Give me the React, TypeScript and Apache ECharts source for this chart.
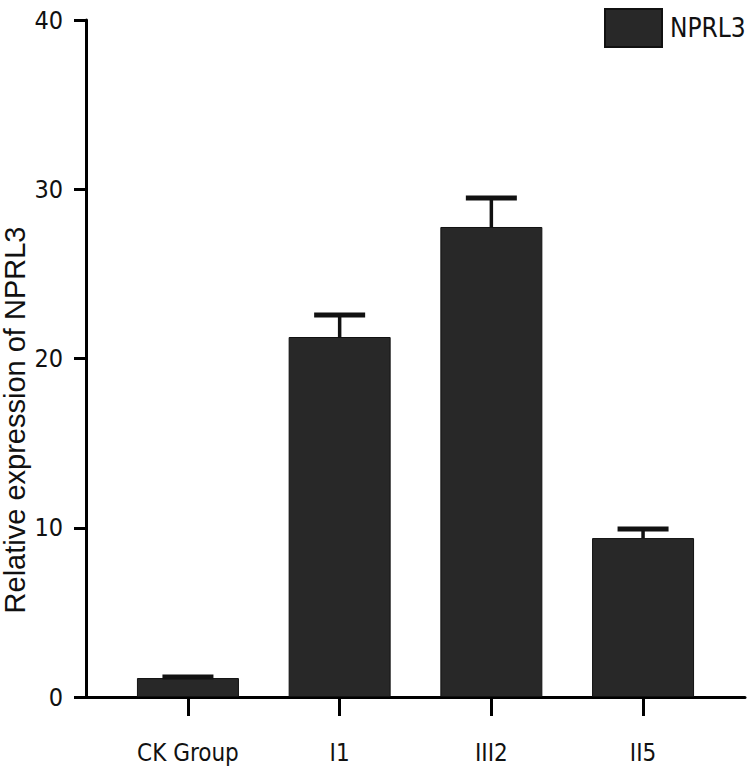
import React, { useEffect, useRef } from "react";
import * as echarts from "echarts";

const categories = ["CK Group", "I1", "III2", "II5"];
const means = [1.12, 21.27, 27.77, 9.39];
const upper = [1.18, 22.57, 29.48, 9.93];
const yTicks = [0, 10, 20, 30, 40];
const seriesName = "NPRL3";
const yTitle = "Relative expression of NPRL3";

const NARROW = '"DejaVu Sans Condensed", "Liberation Sans Narrow", "Arial Narrow", sans-serif';
const REGULAR = '"Liberation Sans", Arial, sans-serif';

export default function App() {
  const ref = useRef<HTMLDivElement>(null);
  useEffect(() => {
    if (!ref.current) return;
    const chart = echarts.init(ref.current, null, { renderer: "svg" });
    const idx = categories.map((_, i) => i);
    chart.setOption({
      animation: false,
      backgroundColor: "#ffffff",
      grid: {
        left: 86,
        right: 5,
        top: 20,
        bottom: 78,
        containLabel: false,
        outerBoundsMode: "none",
      },
      legend: {
        show: true,
        data: [seriesName],
        left: 604,
        top: 8,
        padding: 0,
        itemWidth: 57,
        itemHeight: 38,
        icon: "rect",
        textStyle: { fontFamily: NARROW, fontSize: 26, color: "#111", padding: [0, 0, 0, 3] },
      },
      graphic: [
        {
          type: "text",
          x: 15,
          y: 420,
          rotation: Math.PI / 2,
          style: {
            text: yTitle,
            fontFamily: REGULAR,
            fontSize: 29,
            fill: "#111",
            align: "center",
            verticalAlign: "middle",
          },
        },
      ],
      xAxis: {
        type: "value",
        min: -0.672,
        max: 3.672,
        splitLine: { show: false },
        axisLine: { show: true, onZero: false, lineStyle: { color: "#000", width: 3 } },
        axisTick: {
          show: true,
          inside: false,
          length: 19,
          customValues: idx,
          lineStyle: { color: "#000", width: 3 },
        },
        axisLabel: {
          show: true,
          customValues: idx,
          margin: 44,
          fontFamily: NARROW,
          fontSize: 24,
          color: "#111",
          formatter: (v: number) => categories[Math.round(v)] ?? "",
        },
      },
      yAxis: {
        type: "value",
        min: 0,
        max: 40,
        interval: 10,
        splitLine: { show: false },
        axisLine: { show: true, onZero: false, lineStyle: { color: "#000", width: 3 } },
        axisTick: { show: true, length: 12, lineStyle: { color: "#000", width: 3 } },
        axisLabel: {
          margin: 23,
          fontFamily: NARROW,
          fontSize: 25,
          color: "#111",
          formatter: (v: number) => (yTicks.includes(v) ? String(v) : ""),
        },
      },
      series: [
        {
          name: seriesName,
          type: "bar",
          barWidth: 102,
          data: means.map((m, i) => [i, m]),
          itemStyle: { color: "#282828", borderColor: "#111", borderWidth: 1 },
          z: 2,
        },
        {
          name: "err",
          type: "custom",
          data: means.map((m, i) => [i, m, upper[i]]),
          encode: { x: 0, y: [1, 2] },
          z: 3,
          renderItem: (params: any, api: any) => {
            const x = api.value(0);
            const base = api.coord([x, api.value(1)]);
            const top = api.coord([x, api.value(2)]);
            const half = 25.5;
            return {
              type: "group",
              children: [
                {
                  type: "line",
                  shape: { x1: base[0], y1: base[1], x2: top[0], y2: top[1] },
                  style: { stroke: "#111", lineWidth: 3.5 },
                },
                {
                  type: "line",
                  shape: { x1: top[0] - half, y1: top[1], x2: top[0] + half, y2: top[1] },
                  style: { stroke: "#111", lineWidth: 5 },
                },
              ],
            };
          },
        },
      ],
    });
    return () => chart.dispose();
  }, []);
  return (
    <div
      ref={ref}
      style={{ position: "fixed", left: 0, top: 0, width: 750, height: 775, background: "#fff" }}
    />
  );
}
